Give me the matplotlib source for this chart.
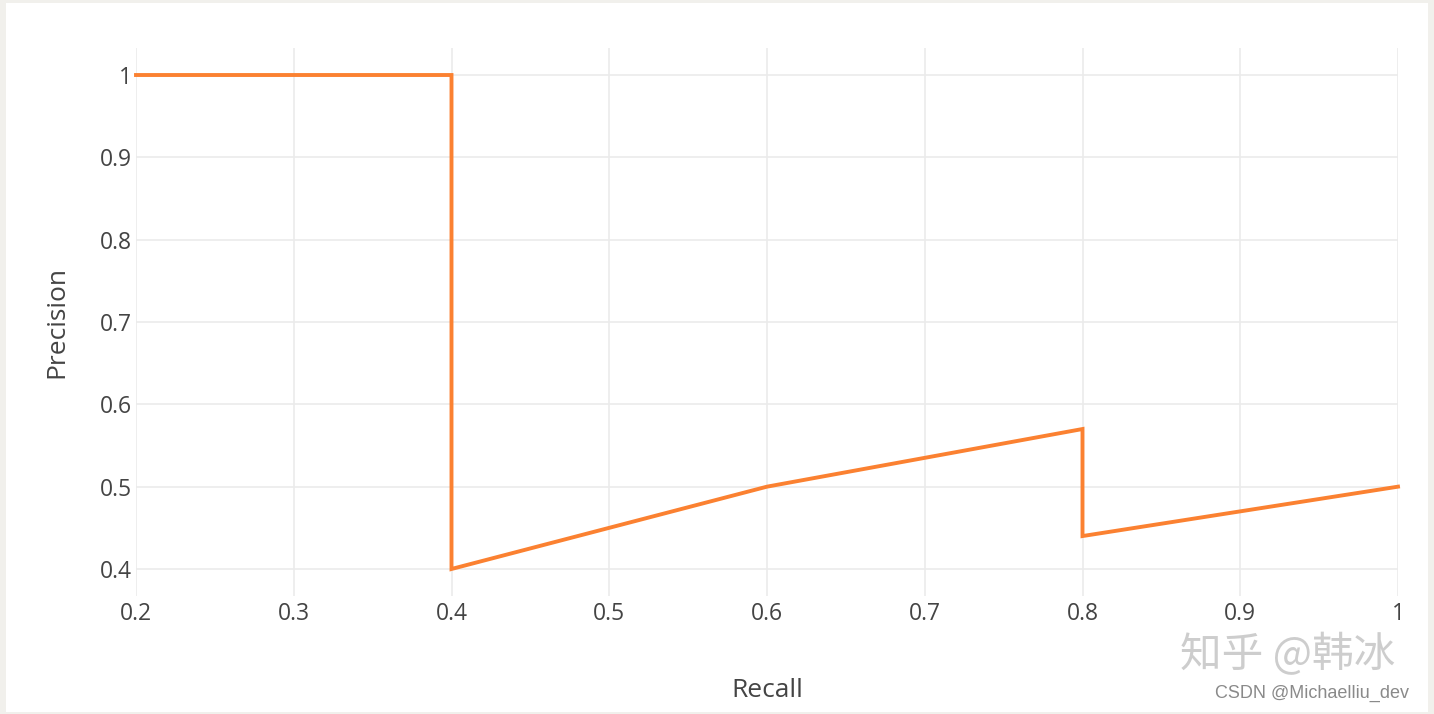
import matplotlib
matplotlib.use('Agg')
import matplotlib.pyplot as plt
from matplotlib.patches import Rectangle

recall = [0.2, 0.4, 0.4, 0.6, 0.8, 0.8, 1.0]
precision = [1.0, 1.0, 0.4, 0.5, 0.57, 0.44, 0.5]
xticks = [0.2, 0.3, 0.4, 0.5, 0.6, 0.7, 0.8, 0.9, 1.0]
xlabels = ['0.2', '0.3', '0.4', '0.5', '0.6', '0.7', '0.8', '0.9', '1']
yticks = [0.4, 0.5, 0.6, 0.7, 0.8, 0.9, 1.0]
ylabels = ['0.4', '0.5', '0.6', '0.7', '0.8', '0.9', '1']

W, H = 1434, 714
fig = plt.figure(figsize=(W / 100, H / 100), dpi=100, facecolor='#f1f0ec')
# white card on light page background
fig.patches.append(Rectangle((6 / W, 2 / H), (W - 12) / W, (H - 5) / H,
                             transform=fig.transFigure, facecolor='white', edgecolor='none', zorder=-10))

ax = fig.add_axes([136 / W, 1 - 596 / H, (1398 - 136) / W, (596 - 48) / H])
ax.set_zorder(5)
ax.set_facecolor('none')
ax.plot(recall, precision, color='#fb8131', lw=2.8, solid_joinstyle='miter', zorder=3, clip_on=False)
ax.set_xlim(0.2, 1.0)
ax.set_ylim(0.4 - 27 / 823, 1.0 + 27 / 823)
ax.set_xticks(xticks)
ax.set_xticklabels(xlabels)
ax.set_yticks(yticks)
ax.set_yticklabels(ylabels)
ax.grid(True, color='#ebebeb', lw=1.2)
ax.set_axisbelow(True)
for s in ax.spines.values():
    s.set_visible(False)
ax.tick_params(length=0, labelsize=16.5, labelcolor='#444444')
ax.tick_params(axis='x', pad=4)
ax.tick_params(axis='y', pad=3)
for t in ax.get_xticklabels() + ax.get_yticklabels():
    t.set_family(['Open Sans', 'DejaVu Sans'])
ax.set_xlabel('Recall', fontsize=19, color='#444444', family=['Open Sans', 'DejaVu Sans'], labelpad=38)
ax.set_ylabel('Precision', fontsize=19, color='#444444', family=['Open Sans', 'DejaVu Sans'], labelpad=22)

# watermarks
fig.text(1288 / W, 1 - 655 / H, '知乎 @韩冰', ha='center', va='center', fontsize=30,
         color='#cdcdcd', family=['Noto Sans CJK SC', 'DejaVu Sans'], zorder=6)
fig.text(1312 / W, 1 - 693 / H, 'CSDN @Michaelliu_dev', ha='center', va='center', fontsize=13,
         color='#8a8a8a', family=['Liberation Sans', 'DejaVu Sans'], zorder=6)

fig.savefig('out.png', dpi=100, facecolor=fig.get_facecolor())
